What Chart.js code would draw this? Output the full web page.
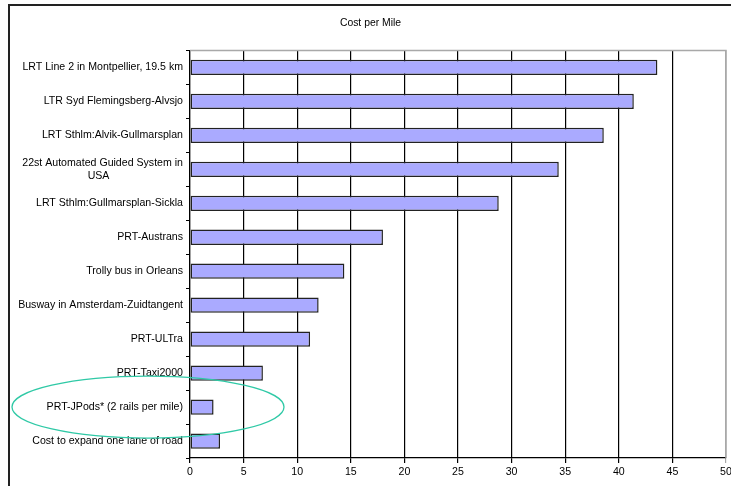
<!DOCTYPE html>
<html>
<head>
<meta charset="utf-8">
<script src="https://cdn.jsdelivr.net/npm/chart.js@4.4.0/dist/chart.umd.min.js"></script>
<style>
  html, body { margin: 0; padding: 0; background: #fff; }
  #wrap { width: 731px; height: 486px; }
</style>
</head>
<body>
<div id="wrap"><canvas id="costChart"></canvas></div>
<script>
var categories = [
    'LRT Line 2 in Montpellier, 19.5 km',
    'LTR Syd Flemingsberg-Alvsjo',
    'LRT Sthlm:Alvik-Gullmarsplan',
    ['22st Automated Guided System in', 'USA\u00a0\u00a0\u00a0\u00a0\u00a0\u00a0\u00a0\u00a0\u00a0\u00a0\u00a0\u00a0\u00a0\u00a0\u00a0\u00a0\u00a0\u00a0\u00a0\u00a0\u00a0\u00a0\u00a0\u00a0\u00a0'],
    'LRT Sthlm:Gullmarsplan-Sickla',
    'PRT-Austrans',
    'Trolly bus in Orleans',
    'Busway in Amsterdam-Zuidtangent',
    'PRT-ULTra',
    'PRT-Taxi2000',
    'PRT-JPods* (2 rails per mile)',
    'Cost to expand one lane of road'
];
var costPerMile = [43.6, 41.4, 38.6, 34.4, 28.8, 18.0, 14.4, 12.0, 11.2, 6.8, 2.2, 2.8];
var xTicks = [0, 5, 10, 15, 20, 25, 30, 35, 40, 45, 50];
var highlighted = 'PRT-JPods* (2 rails per mile)';

var labelFont = { family: 'Liberation Sans, Arial, sans-serif', size: 10.6 };

// outer frame, gray plot border, and the ellipse around the JPods bar
var decorations = {
    id: 'decorations',
    beforeDraw: function (chart) {
        var ctx = chart.ctx;
        ctx.save();
        ctx.fillStyle = '#fff';
        ctx.fillRect(0, 0, chart.width, chart.height);
        ctx.strokeStyle = '#222';
        ctx.lineWidth = 2;
        ctx.strokeRect(9, 5, chart.width + 20, chart.height + 20);
        ctx.restore();
    },
    afterDraw: function (chart) {
        var ctx = chart.ctx;
        var area = chart.chartArea;
        ctx.save();
        ctx.strokeStyle = '#a8a8a8';
        ctx.lineWidth = 1.5;
        ctx.beginPath();
        ctx.moveTo(area.left, area.top);
        ctx.lineTo(area.right, area.top);
        ctx.lineTo(area.right, area.bottom);
        ctx.stroke();

        var idx = categories.indexOf(highlighted);
        var cy = chart.scales.y.getPixelForValue(idx);
        var cx = area.left - 42;
        ctx.strokeStyle = '#2fc9a6';
        ctx.lineWidth = 1.3;
        ctx.beginPath();
        ctx.ellipse(cx, cy, 136, 31, 0, 0, Math.PI * 2);
        ctx.stroke();
        ctx.restore();
    }
};

var ctx = document.getElementById('costChart').getContext('2d');
new Chart(ctx, {
    type: 'bar',
    data: {
        labels: categories,
        datasets: [{
            label: 'Cost per Mile',
            data: costPerMile,
            backgroundColor: '#aaaaff',
            borderColor: '#222',
            borderWidth: 1.5,
            borderSkipped: false,
            barPercentage: 0.45,
            categoryPercentage: 1
        }]
    },
    options: {
        indexAxis: 'y',
        responsive: true,
        maintainAspectRatio: false,
        animation: false,
        layout: { padding: { left: 10, right: 0, top: 5, bottom: 6 } },
        plugins: {
            legend: { display: false },
            tooltip: { enabled: false },
            title: {
                display: true,
                text: 'Cost per Mile',
                color: '#000',
                font: { family: 'Liberation Sans, Arial, sans-serif', size: 10.4, weight: 'normal' },
                padding: { top: 12, bottom: 21 }
            }
        },
        scales: {
            x: {
                min: 0,
                max: 50,
                afterBuildTicks: function (scale) {
                    scale.ticks = xTicks.map(function (v) { return { value: v }; });
                },
                grid: {
                    color: function (c) { return c.tick && c.tick.value === 50 ? '#a8a8a8' : '#000'; },
                    lineWidth: 1.2,
                    tickLength: 5,
                    drawTicks: true
                },
                border: { color: '#000', width: 1.2 },
                ticks: {
                    color: '#000',
                    padding: 3,
                    maxRotation: 0,
                    font: labelFont
                },
                afterFit: function (scale) {
                    scale.height = 22;
                    scale.paddingRight = 5;
                }
            },
            y: {
                grid: {
                    drawOnChartArea: false,
                    color: '#000',
                    tickLength: 4,
                    offset: true
                },
                border: { color: '#000', width: 1.2 },
                ticks: {
                    color: '#000',
                    padding: 3,
                    autoSkip: false,
                    font: labelFont
                },
                afterFit: function (scale) { scale.width = 180; }
            }
        }
    },
    plugins: [decorations]
});
</script>
</body>
</html>
